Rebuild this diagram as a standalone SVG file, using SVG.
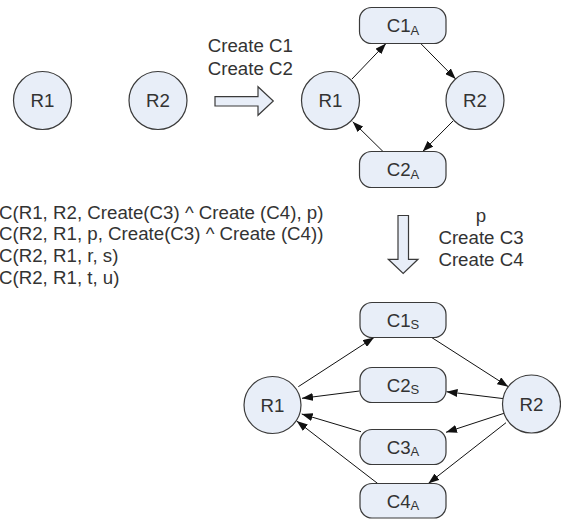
<svg xmlns="http://www.w3.org/2000/svg" width="561" height="519" viewBox="0 0 561 519">
<style>
.n{fill:#e8eef8;stroke:#3a3a3a;stroke-width:1.2}
.t{font-family:"Liberation Sans",Arial,sans-serif;font-size:18.7px;fill:#333}
.m{text-anchor:middle}
.s{font-size:13px}
.e{stroke:#111;stroke-width:1;fill:none;marker-end:url(#ah)}
.b{fill:#e8eef8;stroke:#3a3a3a;stroke-width:1.2}
</style>
<defs>
<marker id="ah" markerUnits="userSpaceOnUse" markerWidth="11" markerHeight="8" refX="11" refY="4" orient="auto">
<path d="M0,0 L11,4 L0,8 z" fill="#111"/>
</marker>
</defs>
<g id="labels">
<text class="t" x="207.7" y="52.3">Create C1</text>
<text class="t" x="207.7" y="75">Create C2</text>
<text class="t" x="-1" y="218.5">C(R1, R2, Create(C3) ^ Create (C4), p)</text>
<text class="t" x="-1" y="240.2">C(R2, R1, p, Create(C3) ^ Create (C4))</text>
<text class="t" x="-1" y="262">C(R2, R1, r, s)</text>
<text class="t" x="-1" y="283.5">C(R2, R1, t, u)</text>
<text class="t m" x="481" y="221.5">p</text>
<text class="t m" x="481" y="243.5">Create C3</text>
<text class="t m" x="481" y="265.5">Create C4</text>
</g>
<g id="bigarrows">
<polygon class="b" points="215,96.7 258,96.7 258,86.7 273.3,101 258,115.3 258,106 215,106"/>
<polygon class="b" points="398,215.5 408.5,215.5 408.5,259.3 418,259.3 403.2,273.5 388.3,259.3 398,259.3"/>
</g>
<g id="connectors">
<line class="e" x1="352" y1="79" x2="386" y2="43.5"/>
<line class="e" x1="420.7" y1="43.5" x2="455.7" y2="79"/>
<line class="e" x1="453" y1="121" x2="422.7" y2="151.5"/>
<line class="e" x1="383" y1="151.5" x2="352.7" y2="121.7"/>
<line class="e" x1="298.3" y1="386.7" x2="374" y2="337.5"/>
<line class="e" x1="431.7" y1="337.5" x2="508.3" y2="386.7"/>
<line class="e" x1="359.5" y1="391" x2="302" y2="398.3"/>
<line class="e" x1="504" y1="398.7" x2="446.5" y2="391.7"/>
<line class="e" x1="504" y1="413.3" x2="446" y2="432.3"/>
<line class="e" x1="361" y1="431.7" x2="301.7" y2="414"/>
<line class="e" x1="506" y1="422.7" x2="428.3" y2="483.5"/>
<line class="e" x1="377.7" y1="483.5" x2="296.7" y2="421"/>
</g>
<g id="R1a"><circle class="n" cx="42.5" cy="100.5" r="29"/><text class="t m" x="42.5" y="107.3">R1</text></g>
<g id="R2a"><circle class="n" cx="158" cy="100.5" r="29"/><text class="t m" x="158" y="107.3">R2</text></g>
<g id="R1b"><circle class="n" cx="330.5" cy="100.5" r="29"/><text class="t m" x="330.5" y="107.3">R1</text></g>
<g id="R2b"><circle class="n" cx="475" cy="100.5" r="29"/><text class="t m" x="475" y="107.3">R2</text></g>
<g id="C1A"><rect class="n" x="359.5" y="7.5" width="86.5" height="36" rx="12"/><text class="t m" x="403" y="32">C1<tspan class="s" dy="2.5">A</tspan></text></g>
<g id="C2A"><rect class="n" x="359.5" y="151.5" width="86.5" height="36" rx="12"/><text class="t m" x="403" y="176">C2<tspan class="s" dy="2.5">A</tspan></text></g>
<g id="R1c"><circle class="n" cx="272.5" cy="405" r="28.5"/><text class="t m" x="272.5" y="411.8">R1</text></g>
<g id="R2c"><circle class="n" cx="531.5" cy="404" r="29"/><text class="t m" x="531.5" y="410.8">R2</text></g>
<g id="C1S"><rect class="n" x="360" y="302.5" width="86" height="35" rx="12"/><text class="t m" x="403" y="326.5">C1<tspan class="s" dy="2.5">S</tspan></text></g>
<g id="C2S"><rect class="n" x="360" y="367.5" width="86" height="35" rx="12"/><text class="t m" x="403" y="391.5">C2<tspan class="s" dy="2.5">S</tspan></text></g>
<g id="C3A"><rect class="n" x="360" y="429.5" width="86" height="35" rx="12"/><text class="t m" x="403" y="453.5">C3<tspan class="s" dy="2.5">A</tspan></text></g>
<g id="C4A"><rect class="n" x="360" y="483.5" width="86" height="34.5" rx="12"/><text class="t m" x="403" y="507.5">C4<tspan class="s" dy="2.5">A</tspan></text></g>
</svg>
